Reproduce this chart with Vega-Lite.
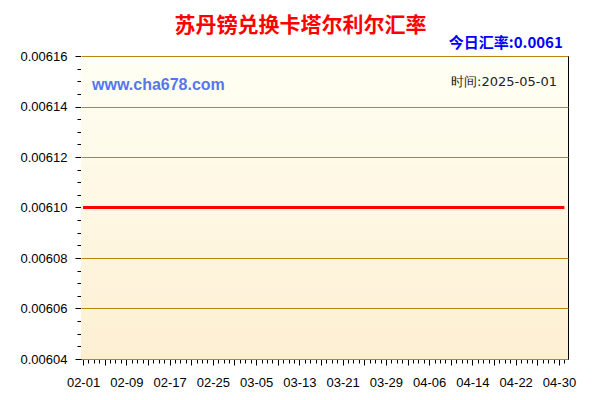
{
  "$schema": "https://vega.github.io/schema/vega-lite/v6.json",
  "width": 487,
  "height": 303,
  "autosize": {"type": "none"},
  "padding": {"left": 81, "top": 56, "right": 32, "bottom": 41},
  "background": "#ffffff",
  "title": {
    "text": "苏丹镑兑换卡塔尔利尔汇率",
    "font": "Noto Sans CJK SC",
    "fontSize": 21,
    "fontWeight": "bold",
    "color": "#ff0000",
    "anchor": "middle",
    "frame": "group",
    "dx": -24,
    "offset": 0
  },
  "config": {
    "view": {"stroke": "#000000", "strokeWidth": 1},
    "axis": {
      "labelFont": "Liberation Sans",
      "labelFontSize": 13,
      "labelColor": "#000000",
      "domainColor": "#000000",
      "tickColor": "#000000",
      "title": null
    }
  },
  "data": {
    "values": [
      {"date": "2025-02-01", "rate": 0.0061}, {"date": "2025-02-02", "rate": 0.0061}, {"date": "2025-02-03", "rate": 0.0061},
      {"date": "2025-02-04", "rate": 0.0061}, {"date": "2025-02-05", "rate": 0.0061}, {"date": "2025-02-06", "rate": 0.0061},
      {"date": "2025-02-07", "rate": 0.0061}, {"date": "2025-02-08", "rate": 0.0061}, {"date": "2025-02-09", "rate": 0.0061},
      {"date": "2025-02-10", "rate": 0.0061}, {"date": "2025-02-11", "rate": 0.0061}, {"date": "2025-02-12", "rate": 0.0061},
      {"date": "2025-02-13", "rate": 0.0061}, {"date": "2025-02-14", "rate": 0.0061}, {"date": "2025-02-15", "rate": 0.0061},
      {"date": "2025-02-16", "rate": 0.0061}, {"date": "2025-02-17", "rate": 0.0061}, {"date": "2025-02-18", "rate": 0.0061},
      {"date": "2025-02-19", "rate": 0.0061}, {"date": "2025-02-20", "rate": 0.0061}, {"date": "2025-02-21", "rate": 0.0061},
      {"date": "2025-02-22", "rate": 0.0061}, {"date": "2025-02-23", "rate": 0.0061}, {"date": "2025-02-24", "rate": 0.0061},
      {"date": "2025-02-25", "rate": 0.0061}, {"date": "2025-02-26", "rate": 0.0061}, {"date": "2025-02-27", "rate": 0.0061},
      {"date": "2025-02-28", "rate": 0.0061}, {"date": "2025-03-01", "rate": 0.0061}, {"date": "2025-03-02", "rate": 0.0061},
      {"date": "2025-03-03", "rate": 0.0061}, {"date": "2025-03-04", "rate": 0.0061}, {"date": "2025-03-05", "rate": 0.0061},
      {"date": "2025-03-06", "rate": 0.0061}, {"date": "2025-03-07", "rate": 0.0061}, {"date": "2025-03-08", "rate": 0.0061},
      {"date": "2025-03-09", "rate": 0.0061}, {"date": "2025-03-10", "rate": 0.0061}, {"date": "2025-03-11", "rate": 0.0061},
      {"date": "2025-03-12", "rate": 0.0061}, {"date": "2025-03-13", "rate": 0.0061}, {"date": "2025-03-14", "rate": 0.0061},
      {"date": "2025-03-15", "rate": 0.0061}, {"date": "2025-03-16", "rate": 0.0061}, {"date": "2025-03-17", "rate": 0.0061},
      {"date": "2025-03-18", "rate": 0.0061}, {"date": "2025-03-19", "rate": 0.0061}, {"date": "2025-03-20", "rate": 0.0061},
      {"date": "2025-03-21", "rate": 0.0061}, {"date": "2025-03-22", "rate": 0.0061}, {"date": "2025-03-23", "rate": 0.0061},
      {"date": "2025-03-24", "rate": 0.0061}, {"date": "2025-03-25", "rate": 0.0061}, {"date": "2025-03-26", "rate": 0.0061},
      {"date": "2025-03-27", "rate": 0.0061}, {"date": "2025-03-28", "rate": 0.0061}, {"date": "2025-03-29", "rate": 0.0061},
      {"date": "2025-03-30", "rate": 0.0061}, {"date": "2025-03-31", "rate": 0.0061}, {"date": "2025-04-01", "rate": 0.0061},
      {"date": "2025-04-02", "rate": 0.0061}, {"date": "2025-04-03", "rate": 0.0061}, {"date": "2025-04-04", "rate": 0.0061},
      {"date": "2025-04-05", "rate": 0.0061}, {"date": "2025-04-06", "rate": 0.0061}, {"date": "2025-04-07", "rate": 0.0061},
      {"date": "2025-04-08", "rate": 0.0061}, {"date": "2025-04-09", "rate": 0.0061}, {"date": "2025-04-10", "rate": 0.0061},
      {"date": "2025-04-11", "rate": 0.0061}, {"date": "2025-04-12", "rate": 0.0061}, {"date": "2025-04-13", "rate": 0.0061},
      {"date": "2025-04-14", "rate": 0.0061}, {"date": "2025-04-15", "rate": 0.0061}, {"date": "2025-04-16", "rate": 0.0061},
      {"date": "2025-04-17", "rate": 0.0061}, {"date": "2025-04-18", "rate": 0.0061}, {"date": "2025-04-19", "rate": 0.0061},
      {"date": "2025-04-20", "rate": 0.0061}, {"date": "2025-04-21", "rate": 0.0061}, {"date": "2025-04-22", "rate": 0.0061},
      {"date": "2025-04-23", "rate": 0.0061}, {"date": "2025-04-24", "rate": 0.0061}, {"date": "2025-04-25", "rate": 0.0061},
      {"date": "2025-04-26", "rate": 0.0061}, {"date": "2025-04-27", "rate": 0.0061}, {"date": "2025-04-28", "rate": 0.0061},
      {"date": "2025-04-29", "rate": 0.0061}, {"date": "2025-04-30", "rate": 0.0061}, {"date": "2025-05-01", "rate": 0.0061}
    ]
  },
  "resolve": {"axis": {"x": "independent", "y": "independent"}},
  "layer": [
    {
      "data": {"values": [{}]},
      "mark": {
        "type": "rect",
        "fill": {
          "gradient": "linear", "x1": 0, "y1": 0, "x2": 0, "y2": 1,
          "stops": [{"offset": 0, "color": "#fffff4"}, {"offset": 1, "color": "#fdefd2"}]
        }
      },
      "encoding": {
        "x": {
          "datum": {"year": 2025, "month": 1, "date": 31, "hours": 15, "utc": true},
          "type": "temporal",
          "scale": {"type": "utc", "domain": [{"year": 2025, "month": 1, "date": 31, "hours": 15, "utc": true}, {"year": 2025, "month": 5, "date": 1, "hours": 16, "utc": true}]},
          "axis": {"orient": "bottom", "tickCount": {"interval": "day", "step": 1}, "labels": false, "grid": false, "tickSize": 4, "domain": true}
        },
        "x2": {"datum": {"year": 2025, "month": 5, "date": 1, "hours": 16, "utc": true}},
        "y": {
          "datum": 0.00604,
          "type": "quantitative",
          "scale": {"domain": [0.00604, 0.00616], "nice": false, "zero": false},
          "axis": {
            "orient": "left",
            "values": [0.00604, 0.006045, 0.00605, 0.006055, 0.00606, 0.006065, 0.00607, 0.006075, 0.00608, 0.006085, 0.00609, 0.006095, 0.0061, 0.006105, 0.00611, 0.006115, 0.00612, 0.006125, 0.00613, 0.006135, 0.00614, 0.006145, 0.00615, 0.006155, 0.00616],
            "labels": false, "grid": false, "tickSize": 4
          }
        },
        "y2": {"datum": 0.00616}
      }
    },
    {
      "mark": {"type": "line", "color": "#ff0000", "strokeWidth": 3, "clip": true},
      "encoding": {
        "x": {
          "field": "date",
          "type": "temporal",
          "scale": {"type": "utc", "domain": [{"year": 2025, "month": 1, "date": 31, "hours": 15, "utc": true}, {"year": 2025, "month": 5, "date": 1, "hours": 16, "utc": true}]},
          "axis": {
            "orient": "bottom",
            "values": [
              {"year": 2025, "month": 2, "date": 1, "utc": true}, {"year": 2025, "month": 2, "date": 5, "utc": true},
              {"year": 2025, "month": 2, "date": 9, "utc": true}, {"year": 2025, "month": 2, "date": 13, "utc": true},
              {"year": 2025, "month": 2, "date": 17, "utc": true}, {"year": 2025, "month": 2, "date": 21, "utc": true},
              {"year": 2025, "month": 2, "date": 25, "utc": true}, {"year": 2025, "month": 3, "date": 1, "utc": true},
              {"year": 2025, "month": 3, "date": 5, "utc": true}, {"year": 2025, "month": 3, "date": 9, "utc": true},
              {"year": 2025, "month": 3, "date": 13, "utc": true}, {"year": 2025, "month": 3, "date": 17, "utc": true},
              {"year": 2025, "month": 3, "date": 21, "utc": true}, {"year": 2025, "month": 3, "date": 25, "utc": true},
              {"year": 2025, "month": 3, "date": 29, "utc": true}, {"year": 2025, "month": 4, "date": 2, "utc": true},
              {"year": 2025, "month": 4, "date": 6, "utc": true}, {"year": 2025, "month": 4, "date": 10, "utc": true},
              {"year": 2025, "month": 4, "date": 14, "utc": true}, {"year": 2025, "month": 4, "date": 18, "utc": true},
              {"year": 2025, "month": 4, "date": 22, "utc": true}, {"year": 2025, "month": 4, "date": 26, "utc": true},
              {"year": 2025, "month": 4, "date": 30, "utc": true}
            ],
            "labelExpr": "indexof(['02-01','02-09','02-17','02-25','03-05','03-13','03-21','03-29','04-06','04-14','04-22','04-30'], utcFormat(datum.value, '%m-%d')) >= 0 ? utcFormat(datum.value, '%m-%d') : ''",
            "labelOverlap": false,
            "labelFlush": false,
            "tickSize": 6,
            "labelPadding": 11,
            "grid": false
          }
        },
        "y": {
          "field": "rate",
          "type": "quantitative",
          "scale": {"domain": [0.00604, 0.00616], "nice": false, "zero": false},
          "axis": {
            "orient": "left",
            "values": [0.00604, 0.00606, 0.00608, 0.0061, 0.00612, 0.00614, 0.00616],
            "format": ".5f",
            "tickSize": 6,
            "labelPadding": 8,
            "labelFlush": false,
            "labelOverlap": false,
            "grid": false
          }
        }
      }
    },
    {
      "data": {"values": [{}]},
      "mark": {"type": "text", "text": "www.cha678.com", "align": "left", "baseline": "middle", "font": "Liberation Sans", "fontSize": 16, "fontWeight": "bold", "color": "#5577ee"},
      "encoding": {
        "x": {
          "datum": {"year": 2025, "month": 2, "date": 2, "hours": 16, "utc": true},
          "type": "temporal",
          "scale": {"type": "utc", "domain": [{"year": 2025, "month": 1, "date": 31, "hours": 15, "utc": true}, {"year": 2025, "month": 5, "date": 1, "hours": 16, "utc": true}]},
          "axis": {"orient": "top", "tickCount": {"interval": "day", "step": 1}, "labels": false, "grid": false, "tickSize": -3, "domain": true}
        },
        "y": {
          "datum": 0.0061485,
          "type": "quantitative",
          "scale": {"domain": [0.00604, 0.00616], "nice": false, "zero": false},
          "axis": {
            "orient": "right",
            "values": [0.00604, 0.006045, 0.00605, 0.006055, 0.00606, 0.006065, 0.00607, 0.006075, 0.00608, 0.006085, 0.00609, 0.006095, 0.0061, 0.006105, 0.00611, 0.006115, 0.00612, 0.006125, 0.00613, 0.006135, 0.00614, 0.006145, 0.00615, 0.006155, 0.00616],
            "labels": false, "grid": false, "tickSize": -4
          }
        }
      }
    },
    {
      "data": {"values": [{}]},
      "mark": {"type": "text", "text": "时间:2025-05-01", "align": "right", "baseline": "middle", "font": "DejaVu Sans", "fontSize": 13, "color": "#222222"},
      "encoding": {
        "x": {"datum": {"year": 2025, "month": 4, "date": 29, "hours": 15, "utc": true}, "type": "temporal", "axis": null},
        "y": {
          "datum": 0.0061497,
          "type": "quantitative",
          "axis": {
            "orient": "left",
            "values": [0.00604, 0.00606, 0.00608, 0.00612, 0.00614, 0.00616],
            "labels": false, "ticks": false, "domain": false,
            "grid": true, "gridColor": "#b8860b", "gridWidth": 1, "zindex": 1
          }
        }
      }
    },
    {
      "data": {"values": [{}]},
      "mark": {"type": "text", "text": "今日汇率:0.0061", "align": "right", "baseline": "alphabetic", "font": "Noto Sans CJK SC", "fontSize": 15, "fontWeight": "bold", "color": "#0000ff", "clip": false},
      "encoding": {
        "x": {"datum": {"year": 2025, "month": 4, "date": 30, "hours": 17, "utc": true}, "type": "temporal", "axis": null},
        "y": {"datum": 0.0061632, "type": "quantitative", "axis": null}
      }
    }
  ]
}
